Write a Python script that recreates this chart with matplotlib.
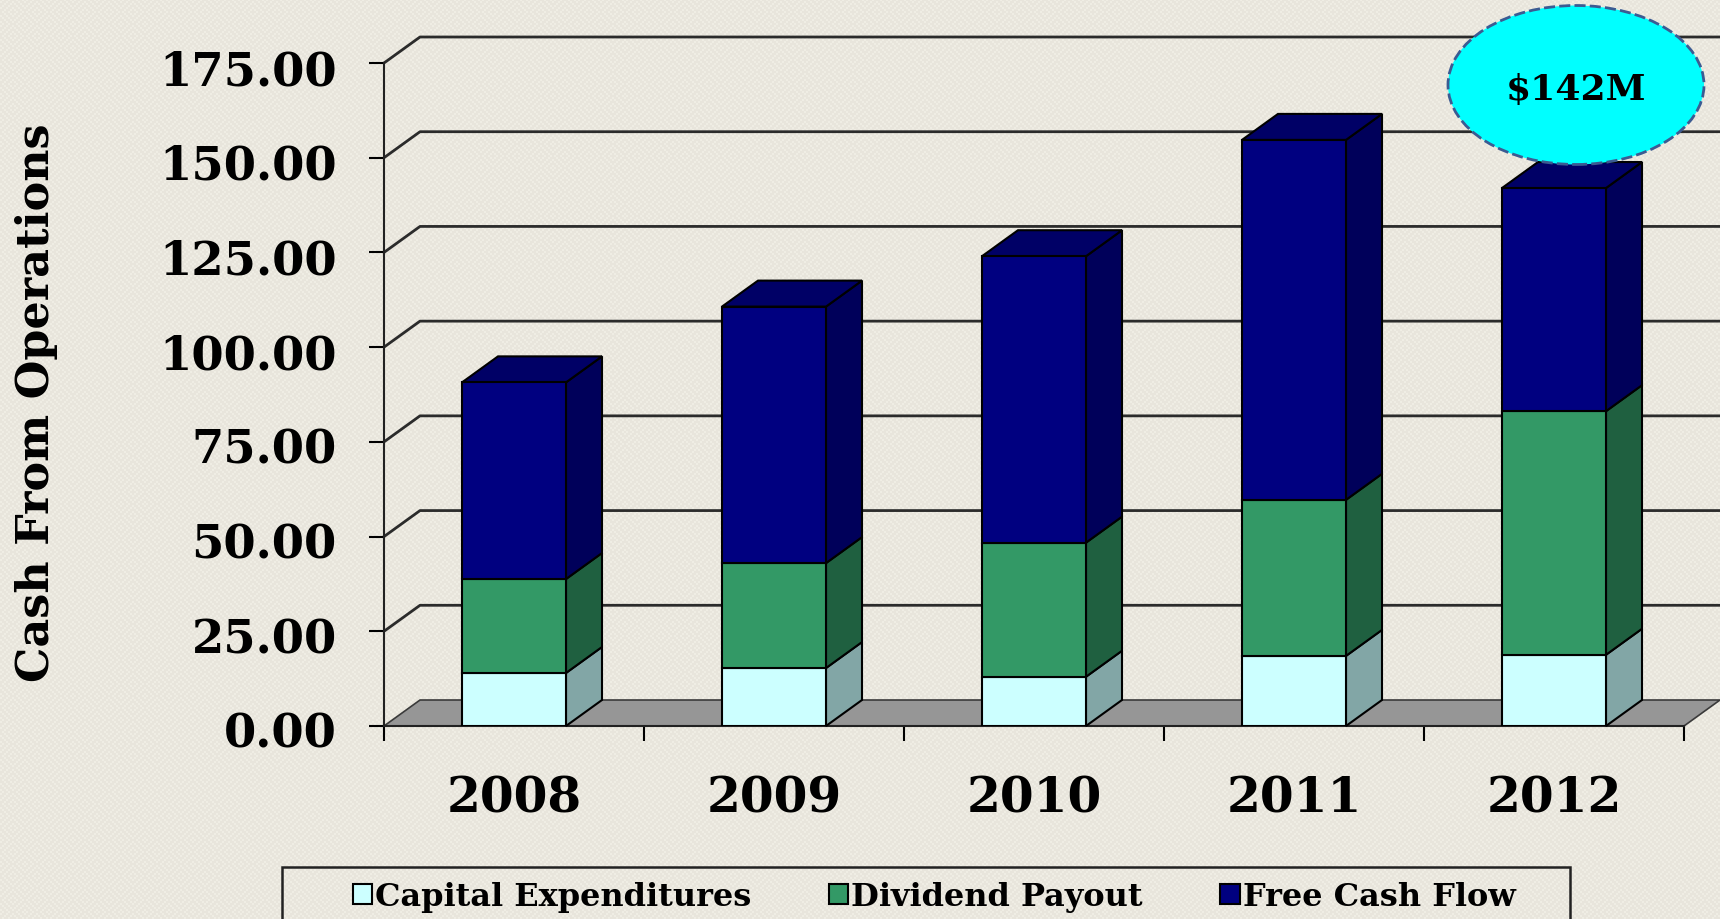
import matplotlib
matplotlib.use('Agg')
import matplotlib.pyplot as plt
import numpy as np
from matplotlib.patches import Ellipse, Patch, Polygon, Rectangle
from matplotlib.transforms import Affine2D

years = ['2008', '2009', '2010', '2011', '2012']
capex = [14.0, 15.3, 13.0, 18.5, 18.8]
dividend = [24.8, 27.7, 35.4, 41.2, 64.3]
free_cash = [51.9, 67.7, 75.6, 95.0, 58.9]
yticks = [0, 25, 50, 75, 100, 125, 150, 175]
legend_labels = ['Capital Expenditures', 'Dividend Payout', 'Free Cash Flow']

W, H = 1720, 920
BAR_W = 0.4
# depth of the fake 3d box, in data units (36 px / 26 px)
DX = 36 / 260
DY = 26 / (663 / 175)

plt.rcParams['font.family'] = ['DejaVu Serif']
plt.rcParams['font.weight'] = 'bold'

fig = plt.figure(figsize=(W / 100, H / 100), dpi=100)

# background texture, nested diamonds on a warm grey
yy, xx = np.mgrid[0:H, 0:W]
rings = (np.abs((xx // 2 * 2 % 24) - 12) + np.abs((yy // 2 * 2 % 24) - 12)) % 6 < 2.5
bg = np.ones((H, W, 3)) * np.array([0.94, 0.93, 0.895])
bg -= rings[..., None] * 0.03
fig.figimage(bg, 0, 0, zorder=-10)

ax = fig.add_axes([384 / W, (H - 727) / H, 1300 / W, 663 / H])
ax.patch.set_alpha(0)
ax.set_xlim(-0.5, 4.5)
ax.set_ylim(0, 175)

# floor
ax.add_patch(Polygon([(-0.5, 0), (-0.5 + DX, DY), (4.5 + DX, DY), (4.5, 0)], closed=True,
                     fc='#969696', ec='#3a3a3a', lw=1.2, clip_on=False, zorder=1))

# grid on the back wall
for v in yticks[1:]:
    ax.plot([-0.5, -0.5 + DX, 4.5 + DX], [v, v + DY, v + DY], color='#2b2b2b', lw=2,
            clip_on=False, zorder=1)

series = [
    (capex, '#CCFFFF', '#82A6A6'),
    (dividend, '#339966', '#1F6040'),
    (free_cash, '#000080', '#00005A'),
]
for i in range(len(years)):
    x0 = i - BAR_W / 2
    x1 = i + BAR_W / 2
    base = 0
    for vals, front, side in series:
        y1 = base + vals[i]
        ax.add_patch(Polygon([(x1, base), (x1 + DX, base + DY), (x1 + DX, y1 + DY), (x1, y1)],
                             closed=True, fc=side, ec='black', lw=1.5, clip_on=False, zorder=3))
        ax.bar(i, vals[i], BAR_W, bottom=base, color=front, edgecolor='black', lw=1.5, zorder=4)
        base = y1
    ax.add_patch(Polygon([(x0, base), (x0 + DX, base + DY), (x1 + DX, base + DY), (x1, base)],
                         closed=True, fc='#000066', ec='black', lw=1.5, clip_on=False, zorder=3))

for s in ['top', 'right']:
    ax.spines[s].set_visible(False)
for s in ['left', 'bottom']:
    ax.spines[s].set_color('#222222')
    ax.spines[s].set_linewidth(1.5)

ax.set_yticks(yticks)
ax.set_yticklabels([f'{v:.2f}' for v in yticks], fontsize=33.5, fontweight='bold')
ax.tick_params(axis='y', length=11, width=1.5, pad=23)
# old-style digits in the source sit lower than the tick
for lab in ax.get_yticklabels():
    lab.set_transform(lab.get_transform() + Affine2D().translate(0, -3))
ax.set_xticks(np.arange(-0.5, 5))
ax.set_xticklabels([])
ax.tick_params(axis='x', length=11, width=1.5)
for i, y in enumerate(years):
    fig.text((384 + 260 * (i + 0.5)) / W, 1 - 799 / H, y, fontsize=35, fontweight='bold',
             ha='center', va='center')

fig.text(37 / W, 1 - 403 / H, 'Cash From Operations', rotation=90, fontsize=32,
         fontweight='bold', ha='center', va='center')

# callout
fig.add_artist(Ellipse((1576 / W, 1 - 86 / H), 256 / W, 159 / H, transform=fig.transFigure,
                       fc='#00FFFF', ec='#3B5B92', lw=2, ls=(0, (4, 1.5)), zorder=6))
fig.text(1576 / W, 1 - 90 / H, '$142M', fontsize=26, fontweight='bold', ha='center',
         va='center', zorder=7)

# legend box runs off the bottom edge of the picture
fig.add_artist(Rectangle((282 / W, 1 - 922 / H), 1288 / W, 54 / H, transform=fig.transFigure,
                         fc='none', ec='#222222', lw=1.8))
handles = [Patch(fc='#CCFFFF', ec='black', lw=1.5), Patch(fc='#339966', ec='black', lw=1.5),
           Patch(fc='#000080', ec='black', lw=1.5)]
fig.legend(handles, legend_labels, ncols=3, loc='center left',
           bbox_to_anchor=(353 / W, 1 - 898 / H), frameon=False, borderpad=0, borderaxespad=0,
           handlelength=0.6, handleheight=0.6, handletextpad=0.1, columnspacing=2.42,
           prop={'size': 23, 'weight': 'bold'})

fig.savefig('out.png', dpi=100)
plt.close(fig)
